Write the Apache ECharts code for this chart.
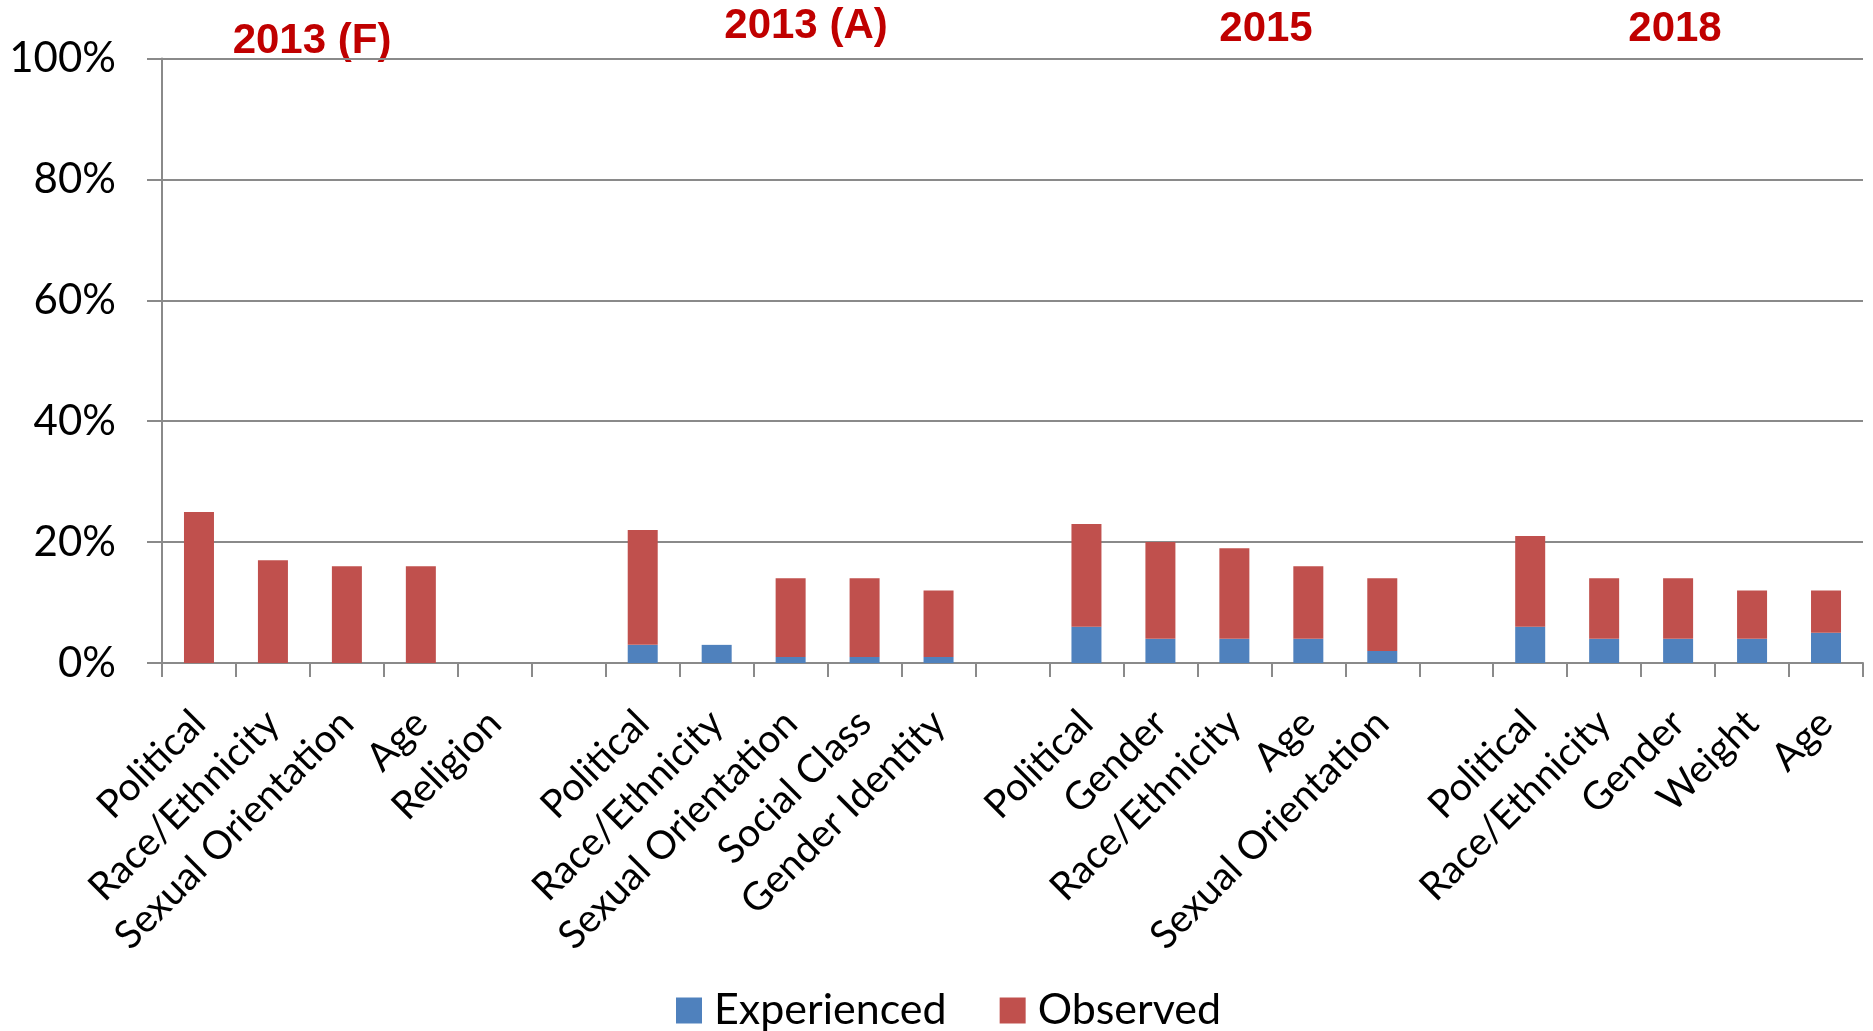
<!DOCTYPE html>
<html>
<head>
<meta charset="utf-8">
<script src="https://cdn.jsdelivr.net/npm/echarts@6/dist/echarts.min.js"></script>
<style>
html,body{margin:0;padding:0;background:#fff;}
#chart{width:1873px;height:1031px;}
</style>
</head>
<body>
<div id="chart"></div>
<script>
// Categories (empty strings are the spacer slots between survey groups)
const categories = [
  'Political','Race/Ethnicity','Sexual Orientation','Age','Religion','',
  'Political','Race/Ethnicity','Sexual Orientation','Social Class','Gender Identity','',
  'Political','Gender','Race/Ethnicity','Age','Sexual Orientation','',
  'Political','Race/Ethnicity','Gender','Weight','Age'
];
// Percentages
const experienced = [0,0,0,0,0,null, 3,3,1,1,1,null, 6,4,4,4,2,null, 6,4,4,4,5];
const observed    = [25,17,16,16,0,null, 19,0,13,13,11,null, 17,16,15,12,12,null, 15,10,10,8,7];
const groupTitles = ['2013 (F)','2013 (A)','2015','2018'];
const yTicks = [0,20,40,60,80,100];

const chart = echarts.init(document.getElementById('chart'));
const FONT = 'Lato';
const GRAY = '#8a8a8a';
const titlePos = [[312,41],[806,26],[1266,29],[1675,29]];

chart.setOption({
  animation:false,
  grid:{left:162,right:10,top:58.5,bottom:368,containLabel:false},
  legend:{
    data:['Experienced','Observed'],
    left:671, top:984,
    icon:'rect', itemWidth:26, itemHeight:26, itemGap:53,
    textStyle:{fontFamily:FONT,fontSize:43,color:'#000',padding:[0,0,0,7]}
  },
  graphic: groupTitles.map((t,i)=>({
    type:'text', x:titlePos[i][0], y:titlePos[i][1],
    style:{text:t, fill:'#C00000', font:'bold 42px "Liberation Sans", Arial, sans-serif', align:'center', verticalAlign:'middle'}
  })),
  xAxis:{
    type:'category', data:categories,
    axisLine:{lineStyle:{color:GRAY,width:2}},
    axisTick:{show:true,interval:0,length:14,lineStyle:{color:GRAY,width:2}},
    axisLabel:{interval:0,rotate:45,fontFamily:FONT,fontSize:39,color:'#000',margin:54,align:'right',verticalAlign:'middle'}
  },
  yAxis:{
    type:'value', min:0, max:100, interval:20,
    axisLine:{show:true,lineStyle:{color:GRAY,width:2}},
    axisTick:{show:true,length:15,lineStyle:{color:GRAY,width:2}},
    splitLine:{lineStyle:{color:GRAY,width:2}},
    axisLabel:{formatter:v=>v+'%',fontFamily:FONT,fontSize:42,color:'#000',margin:46}
  },
  series:[
    {name:'Experienced',type:'bar',stack:'s',data:experienced,barWidth:30,itemStyle:{color:'#4F81BD'}},
    {name:'Observed',type:'bar',stack:'s',data:observed,barWidth:30,itemStyle:{color:'#C0504D'}}
  ]
});
</script>
</body>
</html>
